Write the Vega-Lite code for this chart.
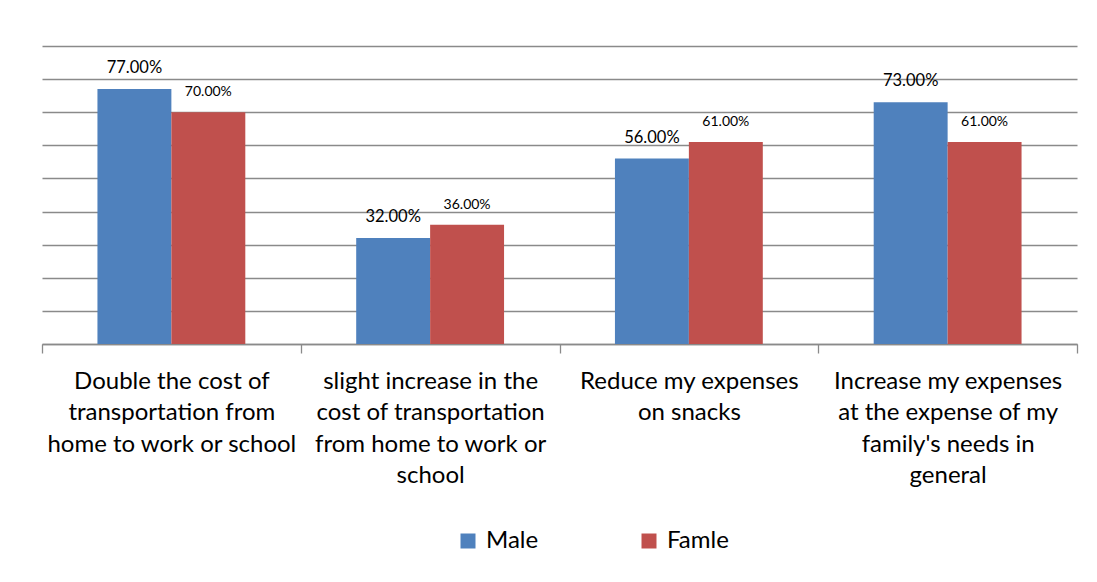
{
  "$schema": "https://vega.github.io/schema/vega-lite/v6.json",
  "width": 1035,
  "height": 298,
  "autosize": {"type": "none"},
  "padding": {"left": 42, "top": 46, "right": 20, "bottom": 238},
  "background": "white",
  "config": {"view": {"stroke": null}, "font": "Lato"},
  "data": {
    "values": [
      {"category": "Double the cost of transportation from home to work or school", "gender": "Male", "value": 0.77},
      {"category": "Double the cost of transportation from home to work or school", "gender": "Famle", "value": 0.70},
      {"category": "slight increase in the cost of transportation from home to work or school", "gender": "Male", "value": 0.32},
      {"category": "slight increase in the cost of transportation from home to work or school", "gender": "Famle", "value": 0.36},
      {"category": "Reduce my expenses on snacks", "gender": "Male", "value": 0.56},
      {"category": "Reduce my expenses on snacks", "gender": "Famle", "value": 0.61},
      {"category": "Increase my expenses at the expense of my family's needs in general", "gender": "Male", "value": 0.73},
      {"category": "Increase my expenses at the expense of my family's needs in general", "gender": "Famle", "value": 0.61}
    ]
  },
  "encoding": {
    "x": {
      "field": "category",
      "type": "nominal",
      "sort": null,
      "scale": {"paddingInner": 0, "paddingOuter": 0},
      "axis": {
        "title": null,
        "labelAngle": 0,
        "labelFontSize": 24,
        "labelColor": "#000000",
        "labelPadding": 16,
        "labelLineHeight": 31.5,
        "labelLimit": 0,
        "labelBaseline": "top",
        "domainColor": "#8a8a8a",
        "domainWidth": 1.3,
        "tickColor": "#8a8a8a",
        "tickWidth": 1.3,
        "tickSize": 9,
        "tickBand": "extent",
        "grid": false,
        "labelExpr": "datum.value == 'Double the cost of transportation from home to work or school' ? ['Double the cost of', 'transportation from', 'home to work or school'] : datum.value == 'slight increase in the cost of transportation from home to work or school' ? ['slight increase in the', 'cost of transportation', 'from home to work or', 'school'] : datum.value == 'Reduce my expenses on snacks' ? ['Reduce my expenses', 'on snacks'] : datum.value == 'Increase my expenses at the expense of my family\\'s needs in general' ? ['Increase my expenses', 'at the expense of my', 'family\\'s needs in', 'general'] : ''"
      }
    },
    "xOffset": {
      "field": "gender",
      "sort": ["Male", "Famle"],
      "scale": {"paddingInner": 0, "paddingOuter": 0.75}
    },
    "y": {
      "field": "value",
      "type": "quantitative",
      "scale": {"domain": [0, 0.9]},
      "axis": {
        "title": null,
        "labels": false,
        "ticks": false,
        "domain": false,
        "grid": true,
        "values": [0, 0.1, 0.2, 0.3, 0.4, 0.5, 0.6, 0.7, 0.8, 0.9],
        "gridColor": "#8a8a8a",
        "gridWidth": 1.3,
        "gridOpacity": 1
      }
    }
  },
  "layer": [
    {
      "mark": {"type": "bar"},
      "encoding": {
        "color": {
          "field": "gender",
          "type": "nominal",
          "scale": {"domain": ["Male", "Famle"], "range": ["#4F81BD", "#C0504D"]},
          "legend": {
            "orient": "none",
            "legendX": 414,
            "legendY": 483,
            "direction": "horizontal",
            "title": null,
            "symbolType": "square",
            "symbolSize": 225,
            "symbolStrokeWidth": 0,
            "symbolOpacity": 1,
            "labelFontSize": 24,
            "labelColor": "#000000",
            "labelOffset": 6,
            "columnPadding": 98,
            "padding": 0
          }
        }
      }
    },
    {
      "mark": {"type": "text", "baseline": "alphabetic", "dy": -16, "color": "#000000"},
      "encoding": {
        "text": {"field": "value", "type": "quantitative", "format": ".2%"},
        "size": {"condition": {"test": "datum.gender == 'Male'", "value": 16.5}, "value": 14}
      }
    }
  ]
}
